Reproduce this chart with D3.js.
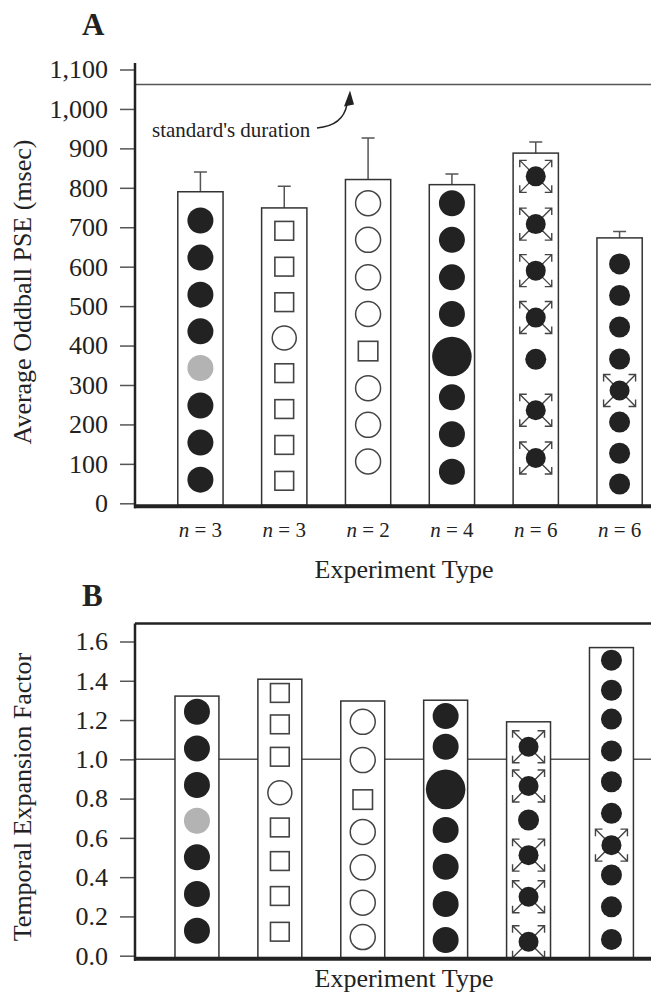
<!DOCTYPE html>
<html>
<head>
<meta charset="utf-8">
<script src="https://cdn.jsdelivr.net/npm/d3@7"></script>
<style>
  body { margin: 0; background: #fff; }
  text { font-family: "Liberation Serif", "Times New Roman", serif; fill: #222; }
</style>
</head>
<body>
<div id="content"></div>
<script>
// experiments (n per experiment)
var nLabels = [3, 3, 2, 4, 6, 6];

// panel A: average oddball PSE (msec) and error bar size
var pseMeans = [790, 749, 821, 808, 888, 673];
var pseErr = [50, 55, 105, 27, 28, 16];
var standardDuration = 1062;
var ticksA = [0, 100, 200, 300, 400, 500, 600, 700, 800, 900, 1000, 1100];

// panel B: temporal expansion factor
var expansion = [1.322, 1.408, 1.297, 1.301, 1.191, 1.569];
var ticksB = [0, 0.2, 0.4, 0.6, 0.8, 1.0, 1.2, 1.4, 1.6];

// icons drawn inside bars, top to bottom
// f = filled dot, g = grey dot, o = open circle, s = square, F = big dot, x = expanding dot
var iconsA = [
  ["f","f","f","f","g","f","f","f"],
  ["s","s","s","o","s","s","s","s"],
  ["o","o","o","o","s","o","o","o"],
  ["f","f","f","f","F","f","f","f"],
  ["x","x","x","x","f","x","x"],
  ["f","f","f","f","x","f","f","f"]
];
var iconValsA = [
  [717, 623, 529, 436, 343, 248, 154, 60],
  [691, 600, 510, 419, 330, 239, 148, 57],
  [761, 668, 573, 480, 386, 292, 199, 106],
  [761, 668, 573, 480, 372, 269, 175, 80],
  [829, 708, 590, 471, 365, 236, 115],
  [607, 527, 447, 366, 286, 206, 127, 49]
];
var iconsB = [
  ["f","f","f","g","f","f","f"],
  ["s","s","s","o","s","s","s","s"],
  ["o","o","s","o","o","o","o"],
  ["f","f","F","f","f","f","f"],
  ["x","x","f","x","x","x"],
  ["f","f","f","f","f","f","x","f","f","f"]
];
var iconValsB = [
  [1.242, 1.055, 0.869, 0.687, 0.501, 0.314, 0.127],
  [1.338, 1.178, 1.013, 0.830, 0.653, 0.482, 0.304, 0.122],
  [1.191, 0.996, 0.795, 0.630, 0.450, 0.270, 0.095],
  [1.220, 1.064, 0.847, 0.640, 0.453, 0.263, 0.080],
  [1.064, 0.864, 0.691, 0.512, 0.300, 0.071],
  [1.505, 1.352, 1.205, 1.043, 0.886, 0.725, 0.563, 0.411, 0.249, 0.083]
];

// dot radius per experiment (styling)
var dotR = [13, 12.5, 13, 13, 10.5, 10.5];

var W = 651, H = 994, axisX = 135;
var ink = "#222", line = "#444";

var svg = d3.select("#content")
            .append("svg")
            .attr("width", W)
            .attr("height", H);

function drawIcon(g, type, cx, cy, r) {
  if (type == "s") {
    var s = r * 1.5;
    g.append("rect").attr("x", cx - s/2).attr("y", cy - s/2).attr("width", s).attr("height", s)
      .attr("fill", "#fff").attr("stroke", line).attr("stroke-width", 1.6);
  } else if (type == "o") {
    g.append("circle").attr("cx", cx).attr("cy", cy).attr("r", r - 0.5)
      .attr("fill", "#fff").attr("stroke", line).attr("stroke-width", 1.5);
  } else if (type == "x") {
    var a = 16, b = 6, h = 7;
    [[-1,-1],[1,-1],[-1,1],[1,1]].forEach(function(d) {
      var tx = cx + d[0]*a, ty = cy + d[1]*a;
      g.append("path")
        .attr("d", "M" + (cx + d[0]*b) + "," + (cy + d[1]*b) + "L" + tx + "," + ty +
                   "M" + (tx - d[0]*h) + "," + ty + "L" + tx + "," + ty + "L" + tx + "," + (ty - d[1]*h))
        .attr("fill", "none").attr("stroke", line).attr("stroke-width", 1.4);
    });
    g.append("circle").attr("cx", cx).attr("cy", cy).attr("r", 10).attr("fill", ink);
  } else {
    var rr = type == "F" ? r * 1.52 : r;
    g.append("circle").attr("cx", cx).attr("cy", cy).attr("r", rr)
      .attr("fill", type == "g" ? "#b3b3b3" : ink);
  }
}

function drawPanel(opt) {
  var x = d3.scaleBand().domain(d3.range(6)).range(opt.xRange)
            .paddingInner(opt.padIn).paddingOuter(opt.padIn / 2);
  var y = d3.scaleLinear().domain(opt.domain).range(opt.yRange);
  var g = svg.append("g");

  if (opt.frameTop) {
    g.append("line").attr("x1", axisX).attr("x2", W).attr("y1", opt.frameTop).attr("y2", opt.frameTop)
      .attr("stroke", ink).attr("stroke-width", 2.5);
  }
  // reference line
  g.append("line").attr("x1", axisX).attr("x2", W)
    .attr("y1", y(opt.refValue)).attr("y2", y(opt.refValue))
    .attr("stroke", "#555").attr("stroke-width", 1.5);

  // error bars
  if (opt.err) {
    g.selectAll(".err").data(opt.values).enter().append("path")
      .attr("d", function(d, i) {
        var cx = x(i) + x.bandwidth()/2, yt = y(d + opt.err[i]);
        return "M" + cx + "," + y(d) + "V" + yt + "M" + (cx - 6.5) + "," + yt + "H" + (cx + 6.5);
      })
      .attr("fill", "none").attr("stroke", "#555").attr("stroke-width", 1.5);
  }

  // bars
  g.selectAll(".bar").data(opt.values).enter().append("rect")
    .attr("x", function(d, i) { return x(i); })
    .attr("y", function(d) { return y(d); })
    .attr("width", x.bandwidth())
    .attr("height", function(d) { return y(0) - y(d) + 2; })
    .attr("fill", "#fff").attr("stroke", "#333").attr("stroke-width", 1.5);

  // icons
  opt.icons.forEach(function(list, i) {
    var cx = x(i) + x.bandwidth()/2;
    list.forEach(function(t, j) {
      drawIcon(g, t, cx, y(opt.iconVals[i][j]), dotR[i]);
    });
  });

  // y axis
  var axis = d3.axisLeft(y).tickValues(opt.ticks).tickFormat(opt.fmt)
               .tickSize(15).tickSizeOuter(0).tickPadding(12);
  var ag = g.append("g").attr("transform", "translate(" + axisX + ",0)").call(axis);
  ag.select(".domain").remove();
  ag.selectAll(".tick line").attr("stroke", "#555").attr("stroke-width", 1.5);
  ag.selectAll(".tick text").attr("font-size", 26).attr("fill", ink)
    .attr("font-family", "Liberation Serif, serif");

  g.append("line").attr("x1", axisX).attr("x2", axisX).attr("y1", opt.axisTop).attr("y2", y(0) + 5)
    .attr("stroke", ink).attr("stroke-width", 2.5);
  g.append("line").attr("x1", axisX - 1).attr("x2", W).attr("y1", y(0) + 3).attr("y2", y(0) + 3)
    .attr("stroke", ink).attr("stroke-width", 4);

  // titles
  g.append("text").attr("transform", "translate(31," + opt.yTitleMid + ") rotate(-90)")
    .attr("text-anchor", "middle").attr("font-size", 26).text(opt.yTitle);
  g.append("text").attr("x", 404).attr("y", opt.xTitleY)
    .attr("text-anchor", "middle").attr("font-size", 26).text("Experiment Type");
  g.append("text").attr("x", 82).attr("y", opt.letterY)
    .attr("font-size", 31).attr("font-weight", "bold").text(opt.letter);

  return {x: x, y: y, g: g};
}

var A = drawPanel({
  xRange: [158.5, 661.5], padIn: 0.46,
  domain: [0, 1100], yRange: [503.3, 69.5],
  values: pseMeans, err: pseErr, refValue: standardDuration,
  icons: iconsA, iconVals: iconValsA,
  ticks: ticksA, fmt: d3.format(","), axisTop: 63,
  yTitle: "Average Oddball PSE (msec)", yTitleMid: 292,
  xTitleY: 578, letter: "A", letterY: 35
});

// n labels
A.g.selectAll(".n").data(nLabels).enter().append("text")
  .attr("x", function(d, i) { return A.x(i) + A.x.bandwidth()/2; })
  .attr("y", 537).attr("text-anchor", "middle").attr("font-size", 21)
  .each(function(d) {
    var t = d3.select(this);
    t.append("tspan").attr("font-style", "italic").text("n");
    t.append("tspan").text(" = " + d);
  });

// standard's duration annotation
var tipY = A.y(standardDuration) + 6;
A.g.append("text").attr("x", 152).attr("y", 137).attr("font-size", 21).text("standard's duration");
A.g.append("path").attr("d", "M317,128 Q343,126 347," + (tipY + 14))
  .attr("fill", "none").attr("stroke", ink).attr("stroke-width", 1.5);
A.g.append("path").attr("d", "M344," + (tipY + 16) + "L354," + (tipY + 14) + "L350," + tipY + "Z")
  .attr("fill", ink);

var B = drawPanel({
  xRange: [155.5, 652.9], padIn: 0.47,
  domain: [0, 1.6], yRange: [955.7, 641.5],
  values: expansion, err: null, refValue: 1.0,
  icons: iconsB, iconVals: iconValsB,
  ticks: ticksB, fmt: d3.format(".1f"), axisTop: 623.5, frameTop: 623.5,
  yTitle: "Temporal Expansion Factor", yTitleMid: 797,
  xTitleY: 987, letter: "B", letterY: 606
});
</script>
</body>
</html>
